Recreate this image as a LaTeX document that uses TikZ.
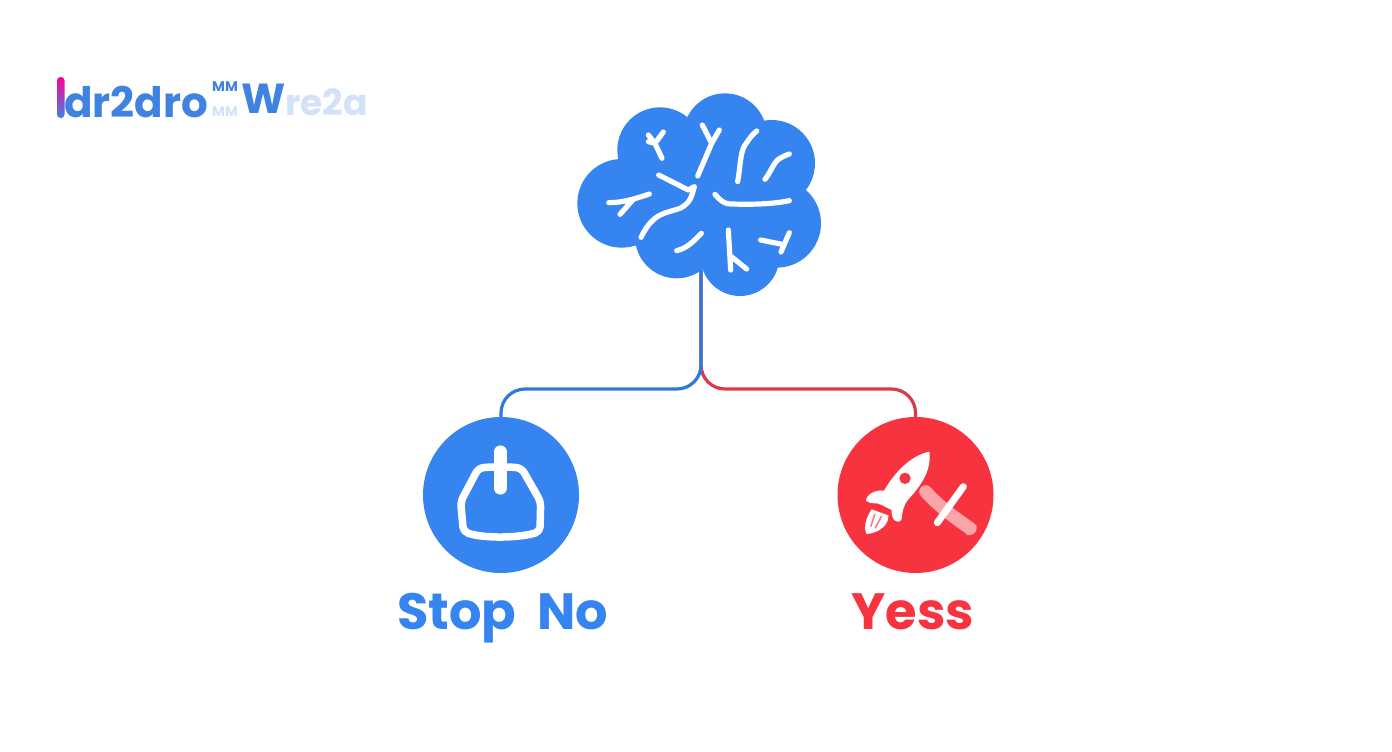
\documentclass[tikz,border=0pt]{standalone}
\usepackage{fontspec}
\setmainfont{Poppins}
\newfontfamily\logofont{Poppins}
\definecolor{mainblue}{HTML}{3584F0}
\definecolor{mainred}{HTML}{F6333F}
\definecolor{lineblue}{HTML}{2F78DC}
\definecolor{linered}{HTML}{D93A48}
\definecolor{logoblue}{HTML}{3F82E0}
\definecolor{logopale}{HTML}{D3E2F8}
\definecolor{pinkband}{HTML}{FBA5AB}
\tikzset{
  vein/.style={draw=white,line width=5.2pt,line cap=round,line join=round},
  disc/.style={circle,minimum size=156pt,inner sep=0pt},
  caption/.style={font=\fontsize{51}{60}\selectfont\bfseries,inner sep=0pt,anchor=base},
  logotext/.style={font=\logofont\bfseries\fontsize{42}{50}\selectfont,inner sep=0pt,anchor=base west},
  link/.style={line width=3.2pt,rounded corners=24pt}
}
\begin{document}
\begin{tikzpicture}[x=1pt,y=-1pt]
\useasboundingbox (0,0) rectangle (1392,752);
\fill[white] (0,0) rectangle (1392,752);
% nodes
\node[disc,fill=mainblue] (stop) at (501,495) {};
\node[disc,fill=mainred] (yes) at (915.5,495) {};
\coordinate (brainroot) at (701,270);
\coordinate (forkblue) at (701,389);
% connectors
\draw[link,linered] (brainroot) -- (forkblue) -| (yes.north);
\draw[link,lineblue] (brainroot) -- (forkblue) -| (stop.north);
% brain
\begin{scope}[shift={(560,80)},scale=1/3]
\fill[mainblue] (185,370) circle (133) (300,210) circle (128) (495,165) circle (125)
  (635,250) circle (130) (650,430) circle (133) (540,530) circle (118) (350,470) circle (125)
  (450,350) circle (200);
\draw[vein] (296,285) -- (385,330) -- (403,320) (403,320) .. controls (395,350) and (390,370) .. (360,385)
  .. controls (320,400) and (280,395) .. (243,472);
\draw[vein] (146,368) .. controls (190,368) and (230,355) .. (268,342) (220,358) -- (180,403);
\draw[vein] (306,235) -- (285,190) -- (310,156) (285,190) -- (265,165) (285,190) -- (265,185);
\draw[vein] (413,288) -- (455,190) -- (427,135) (455,190) -- (478,150);
\draw[vein] (533,305) .. controls (540,270) and (540,225) .. (552,200) .. controls (565,180) and (575,165) .. (590,153);
\draw[vein] (615,298) .. controls (630,280) and (640,250) .. (655,238) .. controls (665,232) and (675,226) .. (688,222);
\draw[vein] (465,343) .. controls (480,360) and (490,372) .. (515,372) .. controls (580,374) and (640,372) .. (688,362);
\draw[vein] (350,512) .. controls (380,505) and (400,485) .. (424,460);
\draw[vein] (505,450) -- (512,570) (514,530) -- (560,567);
\draw[vein] (602,480) -- (662,492) (688,458) -- (663,516);
\end{scope}
% stop icon
\begin{scope}[shift={(410,410)},scale=1/3]
\draw[draw=white,line width=7.5pt,line join=round,rounded corners=5pt]
  (205,175) .. controls (240,170) and (300,170) .. (335,175)
  -- (392,275) -- (390,365) .. controls (320,385) and (220,385) .. (160,365) -- (152,275) -- cycle;
\draw[draw=white,line width=12.5pt,line cap=round] (271,125) -- (271,235);
\end{scope}
% rocket icon
\begin{scope}[shift={(830,410)},scale=1/3]
\draw[pinkband,line width=13pt,line cap=round] (287,245) .. controls (310,270) and (340,300) .. (420,355);
\fill[pinkband] (270,245) .. controls (275,225) and (300,222) .. (310,245) -- (295,275) -- cycle;
\fill[pinkband] (400,335) -- (440,345) .. controls (442,365) and (425,380) .. (410,375) -- cycle;
\draw[white,line width=7pt,line cap=round] (400,230) -- (322,338);
\fill[white] (298,125) .. controls (245,135) and (195,185) .. (162,242)
  .. controls (135,238) and (108,255) .. (108,272) .. controls (120,285) and (140,275) .. (155,285)
  -- (185,300) .. controls (183,325) and (198,345) .. (214,330)
  .. controls (218,305) and (218,290) .. (235,268)
  .. controls (275,225) and (305,180) .. (298,125) -- cycle;
\fill[mainred] (225,205) circle (17);
\fill[white] (125,298) .. controls (103,330) and (102,360) .. (110,372) .. controls (145,370) and (178,345) .. (175,316) -- cycle;
\draw[mainred!65!white,line width=1.5pt] (135,312) -- (122,350) (155,318) -- (135,355);
\end{scope}
% labels
\node[caption,text=mainblue] (stoplabel) at (502.5,629) {Stop\hspace{10pt} No};
\node[caption,text=mainred] (yeslabel) at (913,629) {Yess};
% logo
\shade[top color=magenta!60!red,bottom color=logoblue,rounded corners=3.5pt] (57,77) rectangle (64.5,118);
\node[logotext,text=logoblue] (logoa) at (64,117) {dr2dro};
\node[logotext,text=logopale,font=\logofont\bfseries\fontsize{14}{16}\selectfont] (logob) at (212,116) {MM};
\node[logotext,text=logoblue,font=\logofont\bfseries\fontsize{14}{16}\selectfont] (logoc) at (212,92) {MM};
\node[logotext,text=logoblue] (logod) at (241,113) {W};
\node[logotext,text=logopale,font=\logofont\bfseries\fontsize{36}{44}\selectfont] (logoe) at (285,115) {re2a};
\end{tikzpicture}
\end{document}
